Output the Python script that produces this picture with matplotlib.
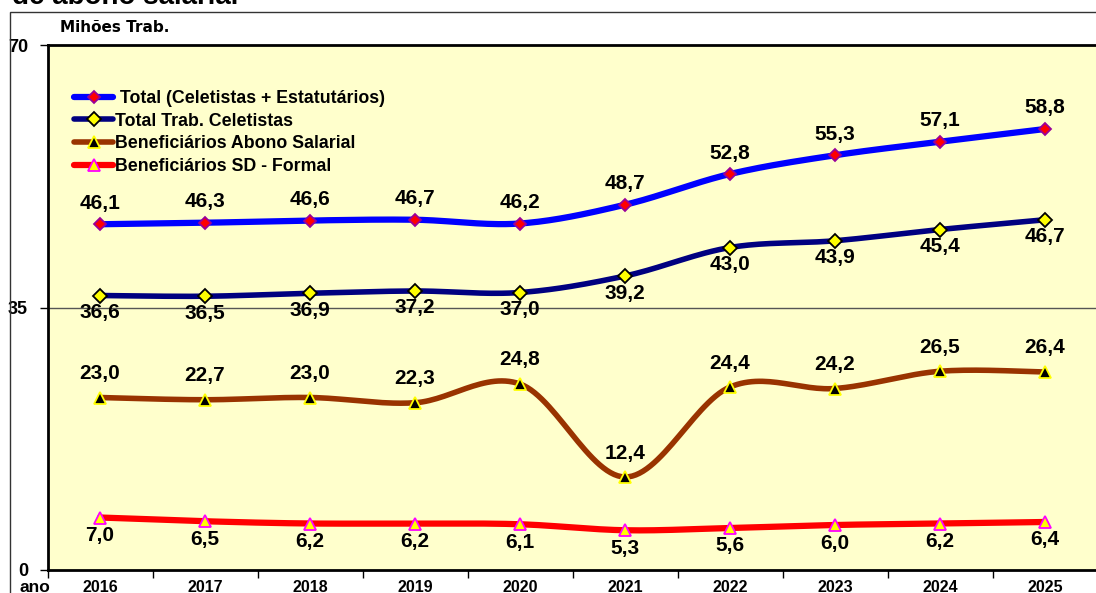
import numpy as np
import matplotlib
matplotlib.use("Agg")
import matplotlib.pyplot as plt
from matplotlib.patches import Rectangle
from matplotlib.lines import Line2D

years = ["2016", "2017", "2018", "2019", "2020", "2021", "2022", "2023", "2024", "2025"]
total = [46.1, 46.3, 46.6, 46.7, 46.2, 48.7, 52.8, 55.3, 57.1, 58.8]
celetistas = [36.6, 36.5, 36.9, 37.2, 37.0, 39.2, 43.0, 43.9, 45.4, 46.7]
abono = [23.0, 22.7, 23.0, 22.3, 24.8, 12.4, 24.4, 24.2, 26.5, 26.4]
sd_formal = [7.0, 6.5, 6.2, 6.2, 6.1, 5.3, 5.6, 6.0, 6.2, 6.4]
y_ticks = [0, 35, 70]
legend_labels = [" Total (Celetistas + Estatutários)", "Total Trab. Celetistas",
                 "Beneficiários Abono Salarial", "Beneficiários SD - Formal"]

W, H = 1096, 593
fig = plt.figure(figsize=(W / 100, H / 100), dpi=100)
fig.patch.set_facecolor("white")

# outer frame
fig.patches.append(Rectangle((10 / W, -0.1), 1.0, (H - 12) / H + 0.1, transform=fig.transFigure,
                             fill=False, edgecolor="#333333", lw=1.0, zorder=0))
fig.text(12 / W, (H - 4) / H, "de abono salarial", fontsize=20, fontweight="bold",
         family="Liberation Sans", va="baseline", ha="left")

ax = fig.add_axes([47.5 / W, 23 / H, 1050 / W, 525 / H])
ax.set_facecolor("#FFFFCC")
ax.set_xlim(-0.5, 9.5)
ax.set_ylim(0, 70)

for s in ["top", "left", "bottom"]:
    ax.spines[s].set_linewidth(2)
ax.spines["right"].set_visible(False)

ax.axhline(35, color="#555555", lw=1.0, zorder=1)

x = np.arange(len(years))


def smooth(xs, ys, n=30):
    xs = np.asarray(xs, float)
    ys = np.asarray(ys, float)
    P = np.column_stack([xs, ys])
    out = []
    for i in range(len(P) - 1):
        p0 = P[i - 1] if i > 0 else P[i]
        p1 = P[i]
        p2 = P[i + 1]
        p3 = P[i + 2] if i + 2 < len(P) else P[i + 1]
        c1 = p1 + (p2 - p0) / 6
        c2 = p2 - (p3 - p1) / 6
        t = np.linspace(0, 1, n)[:, None]
        seg = (1 - t) ** 3 * p1 + 3 * (1 - t) ** 2 * t * c1 + 3 * (1 - t) * t ** 2 * c2 + t ** 3 * p2
        out.append(seg if i == 0 else seg[1:])
    pts = np.vstack(out)
    return pts[:, 0], pts[:, 1]


series = [
    (total, "#0000FF", 4.5, "D", "#FF0000", "#990099", 6, -21),
    (celetistas, "#000080", 4.0, "D", "#FFFF00", "#000000", 7, 17),
    (abono, "#993300", 4.0, "^", "#000000", "#FFFF00", 9, -24),
    (sd_formal, "#FF0000", 4.5, "^", "#FFFF00", "#FF00FF", 8, 18),
]

handles = []
for vals, col, lw, mk, mfc, mec, ms, off in series:
    sx, sy = smooth(x, vals)
    ax.plot(sx, sy, color=col, lw=lw, solid_capstyle="round", zorder=3)
    ax.plot(x, vals, ls="none", marker=mk, markerfacecolor=mfc, markeredgecolor=mec,
            markersize=ms, markeredgewidth=1.3, zorder=4)
    for xi, v in zip(x, vals):
        ax.annotate(f"{v:.1f}".replace(".", ","), (xi, v), xytext=(0, -off * 0.72),
                    textcoords="offset points", ha="center", va="center",
                    fontsize=15, fontweight="bold", family="Liberation Sans", zorder=5)
    handles.append(Line2D([0], [0], color=col, lw=lw, marker=mk, markerfacecolor=mfc,
                          markeredgecolor=mec, markersize=ms, markeredgewidth=1.3,
                          solid_capstyle="round"))

leg = ax.legend(handles, legend_labels, loc="upper left", bbox_to_anchor=(0.01, 0.945),
                frameon=False, handlelength=2.2, handletextpad=0.1, labelspacing=0.32,
                prop={"family": "Liberation Sans", "weight": "bold", "size": 12.8})

ax.set_yticks(y_ticks)
ax.set_yticklabels([str(v) for v in y_ticks], fontsize=13, fontweight="bold", family="Liberation Sans")
ax.set_xticks(x)
ax.set_xticklabels(years, fontsize=11.5, fontweight="bold", family="Liberation Sans")
ax.tick_params(axis="x", length=0, pad=7)
ax.set_xticks(np.arange(-0.5, 10, 1.0), minor=True)
ax.tick_params(axis="x", which="minor", length=6, width=1, direction="out")
ax.tick_params(axis="y", length=6, width=1, direction="out", pad=8)

fig.text(60 / W, (H - 28) / H, "Mihões Trab.", fontsize=11, fontweight="bold",
         family="DejaVu Sans", va="center", ha="left")
fig.text(20 / W, (H - 587) / H, "ano", fontsize=12.5, fontweight="bold",
         family="Liberation Sans", va="center", ha="left")

fig.savefig("out.png", dpi=100)
